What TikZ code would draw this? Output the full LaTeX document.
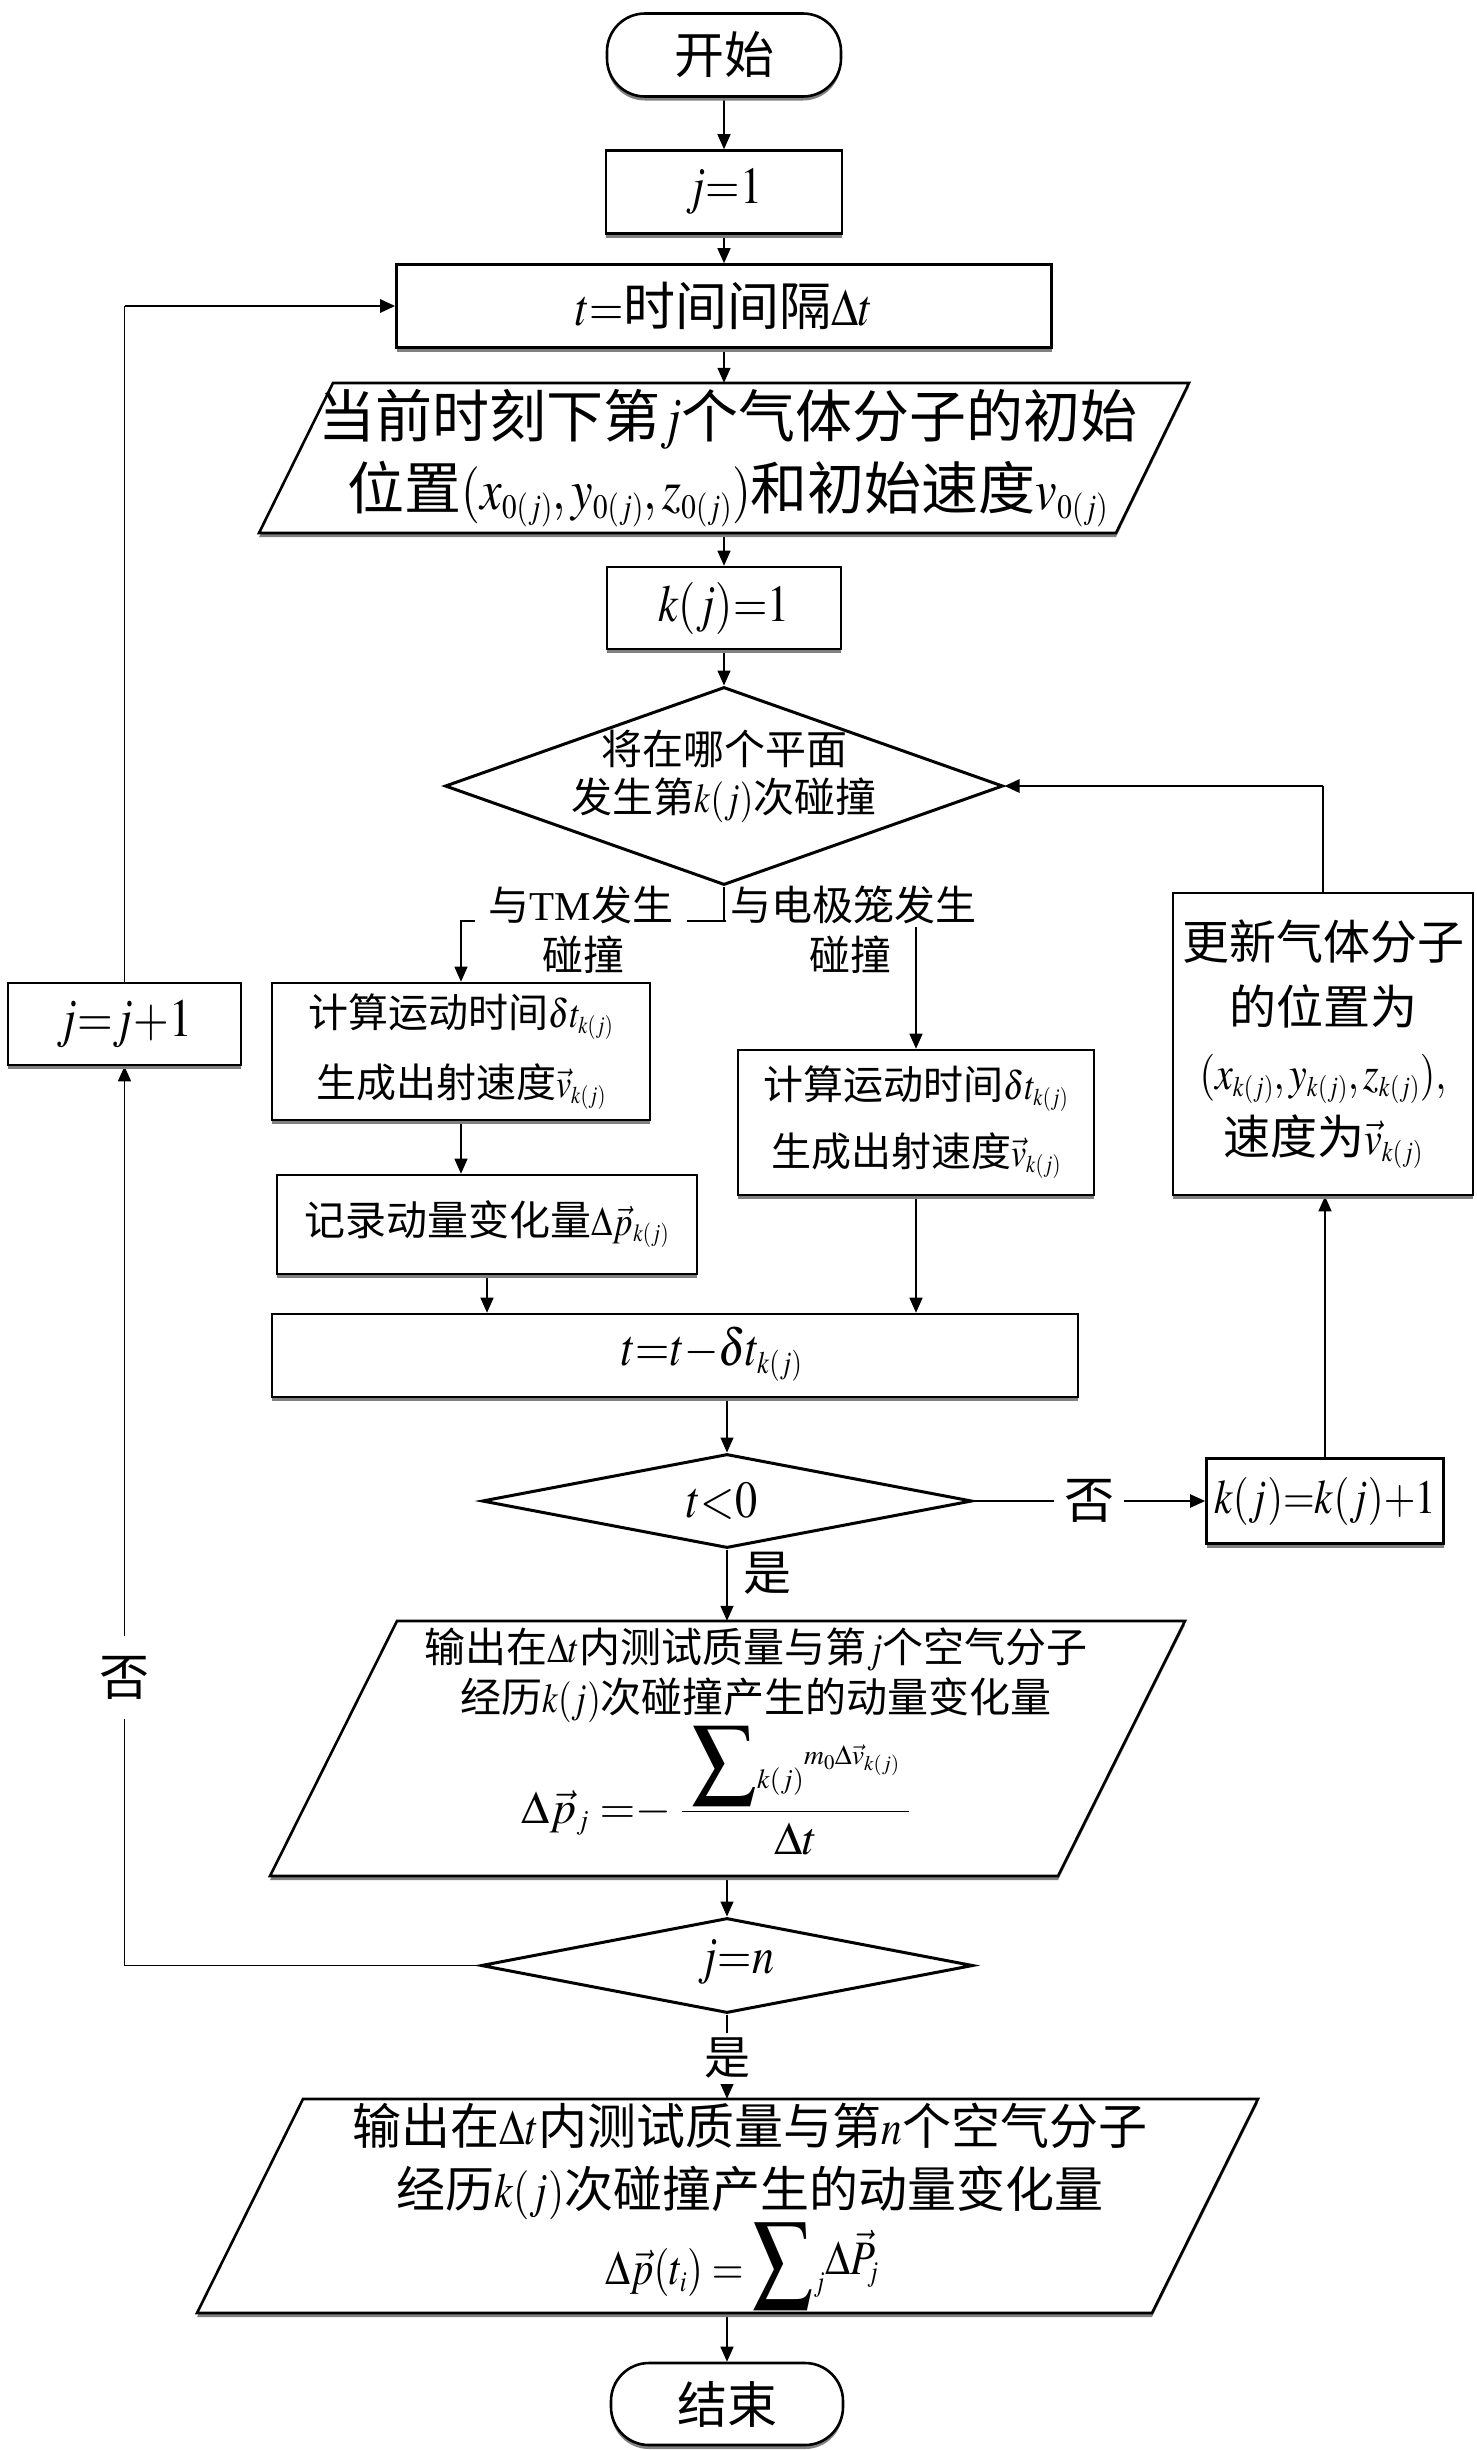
\documentclass[tikz,border=0pt]{standalone}
\usepackage{graphicx}
\usepackage{mathptmx}
\usepackage[no-math]{fontspec}
\setmainfont{Noto Sans CJK SC}
\newfontfamily\tms{Liberation Serif}
\usetikzlibrary{arrows.meta,shapes.geometric,shadows}
\pgfdeclarelayer{back}
\pgfsetlayers{back,main}
\makeatletter
\renewcommand\defaultscriptratio{.6}
\renewcommand\defaultscriptscriptratio{.45}
\makeatother
\newcommand{\fsz}[2]{\fontsize{#1}{#2}\selectfont}
\newcommand{\mq}[1]{\scalebox{0.85}[1]{$#1$}}
\newcommand{\bigsum}[1]{\mbox{\fsz{#1}{#1}$\displaystyle\sum$}}
\tikzset{
  shad/.style={drop shadow={shadow xshift=0pt,shadow yshift=-4pt,fill=black!50,opacity=1}},
  box/.style={draw,line width=2.6pt,fill=white,inner sep=0pt,shad,align=center},
  term/.style={box,rounded corners=38pt},
  dia/.style={draw,diamond,line width=3pt,fill=white,inner sep=0pt},
  para/.style={draw,line width=2.6pt,fill=white,shad},
  ghost/.style={inner sep=0pt,draw=none,align=center},
  txt/.style={inner sep=0pt,align=center},
  arr/.style={-{Triangle[length=15pt,width=13pt]},line width=1.4pt},
  conn/.style={line width=1.4pt},
  heavy/.style={line width=2.8pt},
  lbl/.style={inner sep=3pt,fill=white},
}
\begin{document}
\begin{tikzpicture}[x=1pt,y=-1pt]
\useasboundingbox (0,0) rectangle (1476,2450);

% ---------- upper column ----------
\node[term,minimum width=234pt,minimum height=83pt,font=\fsz{50}{60}] (start) at (724,55) {开始};
\node[box,minimum width=236pt,minimum height=83pt,font=\fsz{52}{60}] (j1) at (724,192) {\mq{j{=}1}};
\node[box,minimum width=655pt,minimum height=83pt,font=\fsz{52}{60}] (t1) at (724,306) {\mq{t{=}}时间间隔\mq{\Delta t}};

\draw[para] (333,383) -- (1189,383) -- (1116,533) -- (259,533) -- cycle;
\node[ghost,minimum width=930pt,minimum height=150pt,font=\fsz{57}{72}] (p1) at (728,458)
  {当前时刻下第\mq{j}个气体分子的初始\\位置\mq{(x_{0(j)}, y_{0(j)}, z_{0(j)})}和初始速度\mq{v_{0(j)}}};

\node[box,minimum width=234pt,minimum height=82pt,font=\fsz{52}{60}] (k1) at (724,608) {\mq{k(j){=}1}};

\node[dia,minimum width=558pt,minimum height=198pt] (d1) at (724,786) {};
\node[txt,font=\fsz{41}{48}] (d1t) at (724,776) {将在哪个平面\\发生第\mq{k(j)}次碰撞};

\coordinate (br) at (724,921);

% ---------- middle ----------
\node[box,minimum width=233pt,minimum height=82pt,font=\fsz{54}{60}] (jj) at (124.5,1024) {\mq{j{=}j{+}1}};
\node[box,minimum width=378pt,minimum height=137pt,font=\fsz{40}{70}] (b1) at (461,1051.5)
  {计算运动时间\mq{\delta t_{k(j)}}\\生成出射速度\mq{\vec{v}_{k(j)}}};
\node[box,minimum width=356pt,minimum height=145pt,font=\fsz{40}{67}] (b2) at (916,1122.5)
  {计算运动时间\mq{\delta t_{k(j)}}\\生成出射速度\mq{\vec{v}_{k(j)}}};
\node[box,minimum width=300pt,minimum height=302pt,font=\fsz{47}{65}] (upd) at (1323,1044)
  {更新气体分子\\的位置为\\\mq{(x_{k(j)}, y_{k(j)}, z_{k(j)}),}\\速度为\mq{\vec{v}_{k(j)}}};
\node[box,minimum width=420pt,minimum height=99pt,font=\fsz{41}{50}] (rec) at (487,1224.5)
  {记录动量变化量\mq{\Delta\vec{p}_{k(j)}}};
\node[box,minimum width=806pt,minimum height=83pt] (tt) at (675,1355.5) {};
\node[txt,font=\fsz{52}{60}] (ttt) at (712,1354) {\mq{t{=}t{-}\delta t_{k(j)}}};

\node[dia,minimum width=490pt,minimum height=94pt] (d2) at (727,1501) {};
\node[txt,font=\fsz{52}{60}] (d2t) at (722,1501) {\mq{t{<}0}};
\node[box,minimum width=237pt,minimum height=85pt,font=\fsz{48}{60}] (kk) at (1325,1501) {\mq{k(j){=}k(j){+}1}};

% ---------- lower column ----------
\draw[para] (397,1621) -- (1185,1621) -- (1058,1876) -- (270,1876) -- cycle;
\node[ghost,minimum width=915pt,minimum height=255pt] (p2) at (727,1748.5) {};
\node[txt,font=\fsz{41}{50}] (p2a) at (756,1675)
  {输出在\mq{\Delta t}内测试质量与第\mq{j}个空气分子\\经历\mq{k(j)}次碰撞产生的动量变化量};
\node[txt,font=\fsz{46}{50},anchor=base] (p2f) at (716,1823)
  {$\Delta\vec{p}_j\;{=}{-}\;\displaystyle\frac{\hspace{9pt}\bigsum{64}{}_{k(j)}{}^{m_0\Delta\vec{v}_{k(j)}}\hspace{9pt}}{\Delta t}$};

\node[dia,minimum width=492pt,minimum height=95pt] (jn) at (727,1965.5) {};
\node[txt,font=\fsz{52}{60}] (jnt) at (736,1962) {\mq{j{=}n}};

\draw[para] (303,2099) -- (1258,2099) -- (1152,2313) -- (197,2313) -- cycle;
\node[ghost,minimum width=1061pt,minimum height=214pt] (p3) at (727,2206) {};
\node[txt,font=\fsz{49}{63}] (p3a) at (750,2161)
  {输出在\mq{\Delta t}内测试质量与第\mq{n}个空气分子\\经历\mq{k(j)}次碰撞产生的动量变化量};
\node[txt,font=\fsz{48}{60},anchor=base] (p3f) at (742,2284)
  {\mq{\Delta\vec{p}(t_i)=\bigsum{70}{}_j\raisebox{10pt}{$\Delta\vec{P}_{\!j}$}}};

\node[term,minimum width=232pt,minimum height=82pt,font=\fsz{50}{60}] (end) at (727,2404) {结束};

% ---------- connectors ----------
\begin{pgfonlayer}{back}
\draw[arr] (start.south) -- (j1.north);
\draw[arr] (j1.south) -- (t1.north);
\draw[arr] (t1.south) -- (t1.south |- p1.north);
\draw[arr] (t1.south |- p1.south) -- (k1.north);
\draw[arr] (k1.south) -- (d1.north);
\draw[conn] (d1.south) -- (br);
\draw[arr] (br) -| (b1.north);
\draw[arr] (br) -| (b2.north);
\node[lbl,inner xsep=14pt,font=\fsz{41}{47}] (la1) at (581,905) {与{\tms TM}发生};
\node[txt,font=\fsz{41}{47}] (la2) at (583,955) {碰撞};
\node[lbl,inner xsep=4pt,font=\fsz{41}{47}] (lb1) at (853,905) {与电极笼发生};
\node[txt,font=\fsz{41}{47}] (lb2) at (850,955) {碰撞};

\draw[arr] (b1.south) -- (b1.south |- rec.north);
\draw[arr] (rec.south) -- (rec.south |- tt.north);
\draw[arr] (b2.south) -- (b2.south |- tt.north);
\draw[arr] (d2.north |- tt.south) -- (d2.north);

\draw[arr,line width=2.2pt] (d2.east) -- node[lbl,inner xsep=10pt,font=\fsz{50}{60}] (no1) {否} (kk.west);
\draw[arr] (kk.north) -- (kk.north |- upd.south);
\draw[conn] (upd.north) -- (upd.north |- d1.east);
\draw[arr,heavy] (upd.north |- d1.east) -- (d1.east);

\draw[arr] (d2.south) -- node[pos=0.33,anchor=west,inner sep=0pt,xshift=16pt,font=\fsz{48}{56}] (yes1) {是} (p2.north);
\draw[arr] (p2.south) -- (jn.north);
\draw[arr] (jn.south) -- node[pos=0.52,lbl,inner ysep=5pt,font=\fsz{46}{56}] (yes2) {是} (p3.north);
\draw[arr] (p3.south) -- (end.north);

\draw[arr] (jn.west) -| node[pos=0.66,lbl,inner ysep=20pt,font=\fsz{50}{60}] (no2) {否} (jj.south);
\draw[conn] (jj.north) -- (jj.north |- t1.west);
\draw[arr,heavy] (jj.north |- t1.west) -- (t1.west);
\end{pgfonlayer}
\end{tikzpicture}
\end{document}
